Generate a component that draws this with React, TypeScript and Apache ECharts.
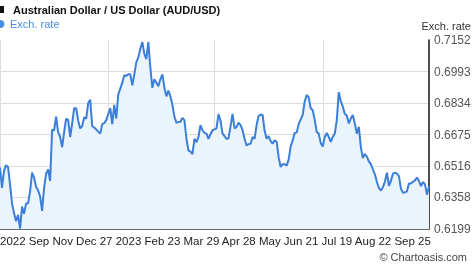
import React, { useEffect, useRef } from "react";
import * as echarts from "echarts";

// AUD/USD exchange rate (evenly spaced samples)
const rates: number[] = [
  0.6509, 0.6406, 0.6492, 0.6521, 0.6512, 0.6424, 0.6329, 0.6278, 0.6239, 0.6270,
  0.6201, 0.6312, 0.6276, 0.6328, 0.6328, 0.6389, 0.6483, 0.6458, 0.6412, 0.6394,
  0.6364, 0.6290, 0.6406, 0.6478, 0.6500, 0.6441, 0.6699, 0.6697, 0.6766, 0.6688,
  0.6663, 0.6612, 0.6688, 0.6756, 0.6748, 0.6663, 0.6731, 0.6808, 0.6808, 0.6745,
  0.6706, 0.6718, 0.6762, 0.6756, 0.6834, 0.6851, 0.6718, 0.6711, 0.6701, 0.6690,
  0.6680, 0.6728, 0.6733, 0.6748, 0.6779, 0.6808,
  0.6728, 0.6825, 0.6756, 0.6877, 0.6907, 0.6937, 0.6974, 0.6971, 0.6979, 0.6979,
  0.6923, 0.6979, 0.7039, 0.7065, 0.7108, 0.7142, 0.7082, 0.7056, 0.7142, 0.7013,
  0.6911, 0.6954, 0.6937, 0.6919, 0.6954, 0.6979, 0.6911, 0.6868, 0.6897, 0.6868,
  0.6825, 0.6766, 0.6735, 0.6738, 0.6740, 0.6759, 0.6748, 0.6654, 0.6595, 0.6589,
  0.6577, 0.6654, 0.6637, 0.6663, 0.6723, 0.6697, 0.6683, 0.6680, 0.6654, 0.6677,
  0.6697,
  0.6701, 0.6706, 0.6779, 0.6745, 0.6680, 0.6668, 0.6653, 0.6656, 0.6718, 0.6779,
  0.6706, 0.6714, 0.6735, 0.6723, 0.6697, 0.6654, 0.6620, 0.6627, 0.6629, 0.6663,
  0.6654, 0.6723, 0.6769, 0.6776, 0.6774, 0.6694, 0.6654, 0.6668, 0.6642, 0.6629,
  0.6646, 0.6639, 0.6560, 0.6512, 0.6526, 0.6526, 0.6518, 0.6549, 0.6615, 0.6646,
  0.6683, 0.6685, 0.6728, 0.6752, 0.6774, 0.6842, 0.6875, 0.6863, 0.6808, 0.6798,
  0.6748, 0.6688, 0.6680, 0.6632,
  0.6615, 0.6663, 0.6683, 0.6663, 0.6639, 0.6663, 0.6680, 0.6748, 0.6889, 0.6842,
  0.6817, 0.6779, 0.6771, 0.6731, 0.6756, 0.6774, 0.6731, 0.6680, 0.6714, 0.6612,
  0.6557, 0.6577, 0.6564, 0.6540, 0.6526, 0.6500, 0.6475, 0.6437, 0.6406, 0.6393,
  0.6410, 0.6437, 0.6483, 0.6417, 0.6441, 0.6478, 0.6483, 0.6478, 0.6466, 0.6403,
  0.6381, 0.6384, 0.6389, 0.6429, 0.6429, 0.6437, 0.6444, 0.6458, 0.6441, 0.6415,
  0.6437, 0.6424, 0.6372, 0.6415,
];

const days: string[] = rates.map((_, i) => String(i));

const yTickValues: number[] = [0.6199, 0.6358, 0.6516, 0.6675, 0.6834, 0.6993, 0.7152];
const yMin = 0.6199;
const yMax = 0.7152;

const xTickLabels: string[] = [
  "2022", "Sep", "Nov", "Dec", "27", "2023", "Feb", "23", "Mar", "29", "Apr", "28",
  "May", "Jun", "21", "Jul", "19", "Aug", "22", "Sep", "25",
];

const verticalGridIdx: number[] = [0, 54, 107, 161];

const titleText = "Australian Dollar / US Dollar (AUD/USD)";
const seriesName = "Exch. rate";
const axisName = "Exch. rate";
const credit = "\u00A9 Chartoasis.com";

const FONT = '"Liberation Sans", Arial, sans-serif';

export default function App() {
  const ref = useRef<HTMLDivElement>(null);

  useEffect(() => {
    if (!ref.current) return;
    const chart = echarts.init(ref.current, undefined, { renderer: "svg" });
    const hiddenTop = yTickValues.map((v, i) =>
      i === yTickValues.length - 1 ? "rgba(0,0,0,0)" : "#dcdcdc"
    );
    chart.setOption({
      animation: false,
      grid: { left: 0, right: 45, top: 40, bottom: 40 },
      xAxis: {
        type: "category",
        data: days,
        boundaryGap: false,
        axisLine: { show: true, lineStyle: { color: "#444", width: 1.5 } },
        axisTick: { show: false },
        axisLabel: { show: false },
        splitLine: {
          show: true,
          interval: (idx: number) => verticalGridIdx.includes(idx),
          lineStyle: { color: "#dcdcdc", width: 1 },
        },
      },
      yAxis: {
        type: "value",
        position: "right",
        min: yMin,
        max: yMax,
        axisLine: { show: true, lineStyle: { color: "#111", width: 1.5 } },
        axisTick: { show: false, customValues: yTickValues },
        axisLabel: {
          customValues: yTickValues,
          formatter: (v: number) => v.toFixed(4),
          color: "#555",
          fontSize: 12,
          fontFamily: FONT,
          margin: 5,
        },
        splitLine: { show: true, lineStyle: { color: hiddenTop, width: 1 } },
      },
      series: [
        {
          name: seriesName,
          type: "line",
          data: rates,
          symbol: "none",
          lineStyle: { color: "#3b7fd8", width: 2 },
          areaStyle: { color: "#eaf4fd", opacity: 1 },
        },
      ],
      graphic: [
        { type: "rect", shape: { x: -3, y: 6, width: 7, height: 7 }, style: { fill: "#111" } },
        {
          type: "text",
          x: 13,
          y: 10,
          style: {
            text: titleText,
            font: `bold 11px ${FONT}`,
            fill: "#111",
            textVerticalAlign: "middle",
          },
        },
        { type: "circle", shape: { cx: 0.5, cy: 24, r: 4 }, style: { fill: "#4a8ee0" } },
        {
          type: "text",
          x: 10,
          y: 24,
          style: {
            text: seriesName,
            font: `11px ${FONT}`,
            fill: "#4a8ee0",
            textVerticalAlign: "middle",
          },
        },
        {
          type: "text",
          x: 471,
          y: 26,
          style: {
            text: axisName,
            font: `11px ${FONT}`,
            fill: "#333",
            textAlign: "right",
            textVerticalAlign: "middle",
          },
        },
        {
          type: "text",
          x: 0,
          y: 241,
          style: {
            text: xTickLabels.join(" "),
            font: `11.5px ${FONT}`,
            fill: "#222",
            textVerticalAlign: "middle",
          },
        },
        {
          type: "text",
          x: 467,
          y: 257,
          style: {
            text: credit,
            font: `11px ${FONT}`,
            fill: "#444",
            textAlign: "right",
            textVerticalAlign: "middle",
          },
        },
      ],
    });
    return () => chart.dispose();
  }, []);

  return (
    <div
      ref={ref}
      style={{ position: "fixed", left: 0, top: 0, width: 474, height: 269 }}
    />
  );
}
